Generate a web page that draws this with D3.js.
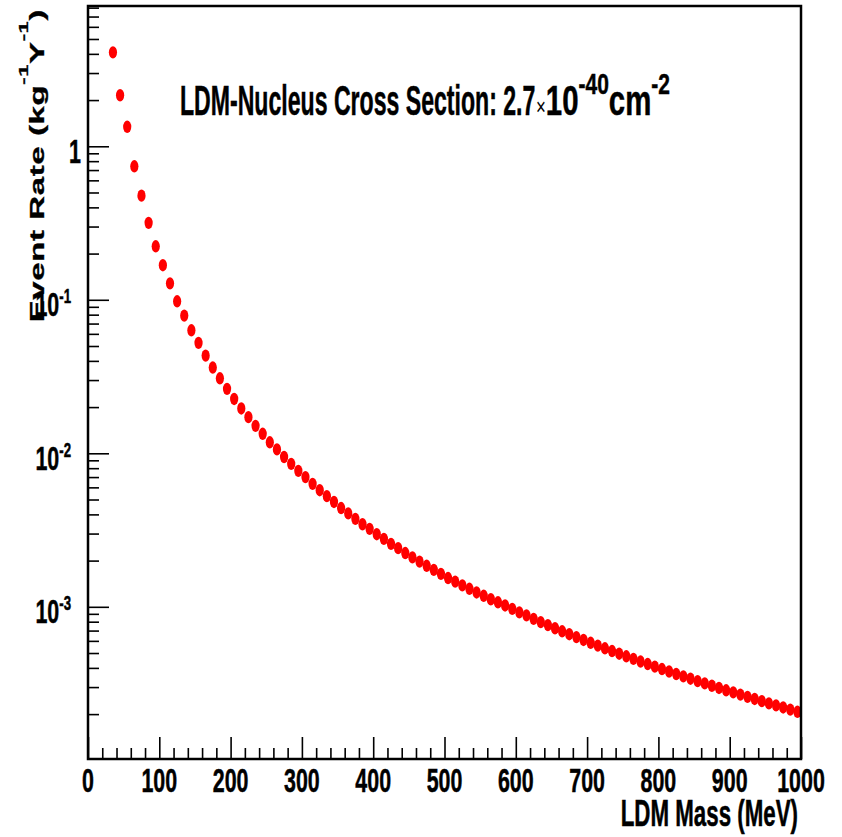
<!DOCTYPE html>
<html lang="en">

<head>
    <meta charset="UTF-8">
    <title>LDM Event Rate</title>
    <script src="https://d3js.org/d3.v7.min.js"></script>
    <style>
        body {
            margin: 0;
            background: #fff;
        }

        svg {
            display: block;
            font-family: "Liberation Sans", Arial, sans-serif;
        }

        /* ROOT's bold Helvetica is a little heavier */
        text {
            stroke: #000;
            stroke-width: 0.5px;
        }
    </style>
</head>

<body>
    <script>
        // LDM mass (MeV) of each point
        const massValues = [35, 45, 55, 65, 75, 85, 95, 105, 115, 125, 135, 145, 155, 165, 175, 185, 195,
            205, 215, 225, 235, 245, 255, 265, 275, 285, 295, 305, 315, 325, 335, 345, 355, 365, 375, 385, 395,
            405, 415, 425, 435, 445, 455, 465, 475, 485, 495, 505, 515, 525, 535, 545, 555, 565, 575, 585, 595,
            605, 615, 625, 635, 645, 655, 665, 675, 685, 695, 705, 715, 725, 735, 745, 755, 765, 775, 785, 795,
            805, 815, 825, 835, 845, 855, 865, 875, 885, 895, 905, 915, 925, 935, 945, 955, 965, 975, 985, 995];

        // event rate (kg^-1 Y^-1)
        const rateValues = [4.09, 2.15, 1.34, 0.741, 0.477, 0.317, 0.223, 0.168, 0.128, 0.0978, 0.0789,
            0.0633, 0.0524, 0.0433, 0.0362, 0.0308, 0.0263, 0.0226, 0.0196, 0.0172, 0.0151, 0.0134, 0.0118,
            0.0106, 0.00946, 0.00853, 0.00768, 0.00700, 0.00632, 0.00575, 0.00526, 0.00482, 0.00440, 0.00406,
            0.00374, 0.00345, 0.00322, 0.00297, 0.00277, 0.00257, 0.00241, 0.00224, 0.00210, 0.00197, 0.00185,
            0.00174, 0.00164, 0.00154, 0.00146, 0.00138, 0.00131, 0.00124, 0.00118, 0.00112, 0.00107, 0.00102,
            0.00097, 0.00092, 0.00088, 0.000835, 0.000795, 0.00076, 0.000725, 0.000693, 0.000663, 0.000635,
            0.000608, 0.000583, 0.000559, 0.000537, 0.000515, 0.000495, 0.000476, 0.000458, 0.000440, 0.000424,
            0.000408, 0.000393, 0.000379, 0.000365, 0.000352, 0.000340, 0.000328, 0.000317, 0.000306, 0.000296,
            0.000286, 0.000277, 0.000268, 0.000259, 0.000251, 0.000243, 0.000235, 0.000228, 0.000221, 0.000214,
            0.000207];

        // axis ticks and labels
        const xTickValues = [0, 100, 200, 300, 400, 500, 600, 700, 800, 900, 1000];
        const xTickLabels = ["0", "100", "200", "300", "400", "500", "600", "700", "800", "900", "1000"];
        const yTickValues = [1, 0.1, 0.01, 0.001];
        const yTickBases = ["1", "10", "10", "10"];
        const yTickExps = ["", "-1", "-2", "-3"];

        const width = 842;
        const height = 837;
        const frame = { left: 88, right: 801, top: 6, bottom: 759 };
        const squeeze = 0.63; // the original picture is squashed horizontally

        const svg = d3.select("body").append("svg")
            .attr("width", width)
            .attr("height", height);

        const x = d3.scaleLinear().domain([0, 1000]).range([frame.left, frame.right]);
        const y = d3.scaleLog().domain([1.02e-4, 8.2]).range([frame.bottom, frame.top]);

        // points
        svg.append("g")
            .selectAll("ellipse")
            .data(massValues.map((m, i) => ({ m: m, r: rateValues[i] })))
            .enter().append("ellipse")
            .attr("cx", d => x(d.m))
            .attr("cy", d => y(d.r))
            .attr("rx", 4.1)
            .attr("ry", 6.2)
            .attr("fill", "#ff0000");

        // x ticks: minor every 20, major every 100 (pointing inwards)
        const xMinor = d3.range(0, 1001, 20).filter(v => v % 100 !== 0);
        svg.append("g")
            .attr("transform", `translate(0,${frame.bottom})`)
            .call(d3.axisBottom(x).tickValues(xMinor).tickSize(-11).tickFormat(""))
            .call(g => g.select(".domain").remove());
        svg.append("g")
            .attr("transform", `translate(0,${frame.bottom})`)
            .call(d3.axisBottom(x).tickValues(xTickValues).tickSize(-22).tickFormat(""))
            .call(g => g.select(".domain").remove());

        // y ticks: minor at 2..9 of each decade, major at the decades
        const yMinor = [];
        [1e-4, 1e-3, 1e-2, 1e-1, 1].forEach(dec => {
            for (let k = 2; k <= 9; k++) {
                const v = dec * k;
                if (v > y.domain()[0] && v < y.domain()[1]) yMinor.push(v);
            }
        });
        svg.append("g")
            .attr("transform", `translate(${frame.left},0)`)
            .call(d3.axisLeft(y).tickValues(yMinor).tickSize(-11).tickFormat(""))
            .call(g => g.select(".domain").remove());
        svg.append("g")
            .attr("transform", `translate(${frame.left},0)`)
            .call(d3.axisLeft(y).tickValues(yTickValues).tickSize(-21).tickFormat(""))
            .call(g => g.select(".domain").remove());

        svg.selectAll(".tick line")
            .attr("stroke", "#000")
            .attr("stroke-width", 1.6);

        // frame
        svg.append("rect")
            .attr("x", frame.left)
            .attr("y", frame.top)
            .attr("width", frame.right - frame.left)
            .attr("height", frame.bottom - frame.top)
            .attr("fill", "none")
            .attr("stroke", "#000")
            .attr("stroke-width", 2.5);

        // helper for squashed text
        function squashed(px, py, sx) {
            return svg.append("g")
                .attr("transform", `translate(${px},${py}) scale(${sx},1)`)
                .append("text")
                .attr("font-weight", "bold");
        }

        // x tick labels
        xTickValues.forEach((v, i) => {
            squashed(x(v), 792, squeeze)
                .attr("text-anchor", "middle")
                .attr("font-size", 34)
                .text(xTickLabels[i]);
        });

        // y tick labels
        yTickValues.forEach((v, i) => {
            const t = squashed(yTickExps[i] ? 71 : 81, y(v) + 16.5, squeeze)
                .attr("text-anchor", "end")
                .attr("font-size", 34);
            t.append("tspan").text(yTickBases[i]);
            if (yTickExps[i]) {
                t.append("tspan")
                    .attr("font-size", 21)
                    .attr("dy", -13)
                    .text(yTickExps[i]);
            }
        });

        // x title
        squashed(798, 826, 0.62)
            .attr("text-anchor", "end")
            .attr("font-size", 36)
            .text("LDM Mass (MeV)");

        // y title (rotated, squashed across)
        const yTitle = svg.append("g")
            .attr("transform", "translate(43.5,9) rotate(-90) scale(1,0.6)")
            .append("text")
            .attr("text-anchor", "end")
            .attr("font-weight", "bold")
            .attr("font-size", 33)
            .attr("letter-spacing", 0.6);
        yTitle.append("tspan").text("Event Rate (kg");
        yTitle.append("tspan").attr("font-size", 22).attr("dy", -26).text("-1");
        yTitle.append("tspan").attr("dy", 26).text("Y");
        yTitle.append("tspan").attr("font-size", 22).attr("dy", -26).text("-1");
        yTitle.append("tspan").attr("dy", 26).text(")");

        // plot title, in two pieces: the text and the number
        squashed(180, 115, 0.55)
            .attr("font-size", 42)
            .text("LDM-Nucleus Cross Section: 2.7");
        const num = squashed(536, 115, 0.7)
            .attr("font-size", 42);
        num.append("tspan").attr("font-weight", "normal").style("stroke-width", "0px")
            .attr("font-size", 24).text("\u00d7");
        num.append("tspan").text("10");
        num.append("tspan").attr("font-size", 30).attr("dy", -21).text("-40");
        num.append("tspan").attr("dy", 21).text("cm");
        num.append("tspan").attr("font-size", 30).attr("dy", -21).text("-2");
    </script>
</body>

</html>
